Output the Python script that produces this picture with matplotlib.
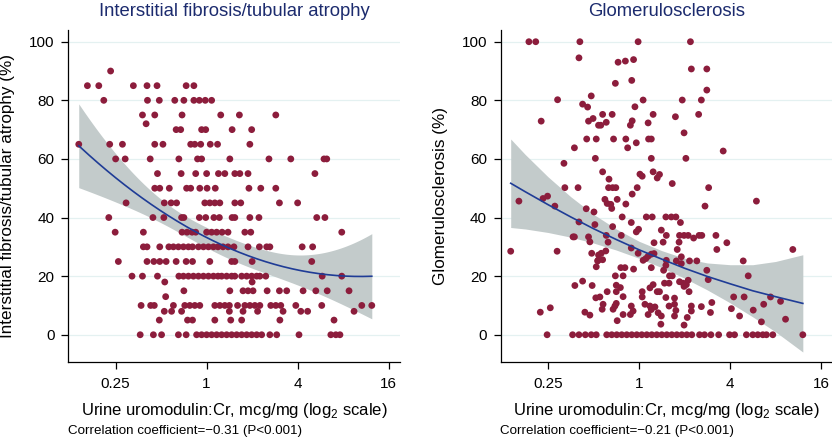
import numpy as np
import matplotlib
matplotlib.use("Agg")
import matplotlib.pyplot as plt
from matplotlib.ticker import FixedLocator, FuncFormatter

plt.rcParams['font.family'] = ['Liberation Sans', 'DejaVu Sans']
plt.rcParams['mathtext.fontset'] = 'custom'
plt.rcParams['mathtext.rm'] = 'Liberation Sans'

# ---------------- data (x = log2 of urine uromodulin:Cr, mcg/mg) ----------------
# Interstitial fibrosis / tubular atrophy (%), grouped by score level
ifta_levels = [90, 85, 80, 75, 72, 70, 65, 60, 55, 50, 45, 40, 35, 30, 25, 20, 18, 15, 13, 10, 8, 5, 0]
ifta_log2_by_level = [
    [-2.11],
    [-2.62, -2.37, -1.61, -1.31, -1.09, -0.45, -0.28],
    [-2.26, -1.30, -1.04, -0.70, -0.50, -0.28, -0.16, -0.03, 0.11],
    [-1.41, -1.14, -0.54, 0.31, 0.72, 1.52],
    [-1.33],
    [-0.67, -0.57, -0.11, -0.02, 0.56, 0.99],
    [-2.81, -2.13, -1.85, -1.14, -0.96, -0.35, -0.26, -0.13, 0.08, 0.24, 0.95],
    [-2.00, -1.79, -1.24, -0.61, -0.20, -0.11, 0.51, 1.37, 1.85, 2.58, 2.64],
    [-1.08, -0.56, -0.24, 0.00, 0.26, 0.40, 0.62, 0.73, 0.91, 2.38],
    [-1.14, -1.03, -0.82, -0.44, -0.35, -0.15, 0.01, 0.19, 0.93, 1.19, 1.52],
    [-1.77, -0.93, -0.78, -0.66, -0.04, 0.07, 0.18, 0.29, 0.62, 0.75, 1.60, 2.00],
    [-2.15, -1.18, -0.94, -0.55, -0.50, -0.16, -0.02, 0.16, 0.28, 0.56, 0.62, 0.95, 1.15, 2.42, 2.60],
    [-2.01, -1.39, -0.54, -0.43, -0.32, -0.24, 0.00, 0.11, 0.22, 0.34, 0.47, 0.84, 0.97, 2.97],
    [-1.39, -1.31, -1.03, -0.83, -0.73, -0.62, -0.51, -0.40, -0.31, -0.18, -0.07, 0.04, 0.15, 0.25,
     0.36, 0.47, 0.60, 0.91, 1.16, 1.32, 1.39, 2.10, 2.33],
    [-1.94, -1.31, -1.16, -1.03, -0.89, -0.67, -0.45, -0.31, 0.07, 0.55, 0.62, 1.00, 2.31],
    [-1.64, -1.41, -1.08, -0.61, -0.51, -0.40, -0.29, -0.18, -0.07, 0.04, 0.15, 0.25, 0.33, 0.44,
     0.55, 0.62, 0.77, 0.88, 0.99, 1.10, 1.17, 1.30, 2.54, 2.97],
    [-0.92, 1.00],
    [-0.50, 0.51, 0.80, 0.91, 1.02, 1.33, 1.60, 1.76, 2.12, 2.40, 2.65, 3.13],
    [-0.90],
    [-1.44, -1.23, -1.15, -0.73, -0.48, -0.37, -0.26, -0.15, 0.18, 0.29, 0.40, 0.50, 0.68, 0.84,
     0.95, 1.06, 1.17, 1.41, 1.52, 1.63, 1.96, 2.53, 3.41, 3.63],
    [-0.93, -0.77, -0.55, 0.50, 0.80, 1.12, 1.68, 2.07, 2.22, 3.24],
    [-1.04, -0.42, -0.31, 0.18, 0.53, 0.77, 1.61, 2.80],
    [-1.46, -1.17, -0.99, -0.62, -0.45, -0.22, -0.11, 0.00, 0.11, 0.22, 0.33, 0.44, 0.55, 0.66,
     0.77, 0.88, 0.99, 1.10, 1.21, 1.39, 1.54, 2.03, 2.73, 2.84, 2.93],
]

# Glomerulosclerosis (%)
gs_log2 = [
    -2.42, -2.27, -1.30, -0.02, 1.13, -1.32, -0.46, -0.30, -0.12, 1.15,
    1.49, -0.52, -0.16, 1.49, -1.05, -1.79, 0.09, 0.95, 1.37, -1.24,
    -1.13, -0.09, -0.80, -0.59, 0.31, 1.31, 0.80, -1.01, -1.11, -2.15,
    -0.15, -0.72, 0.20, -0.89, -0.84, -0.19, 0.99, -1.15, -0.94, -0.56,
    -0.29, 0.21, 0.27, -0.06, -1.42, -0.25, 1.85, -0.96, 0.27, 1.03,
    -1.65, -0.80, 0.31, 0.02, 0.45, 0.07, 0.40, -0.66, 0.73, -1.63,
    -1.34, -0.67, -0.58, -0.51, -0.04, 1.53, -0.15, -2.01, -2.11, -0.75,
    -0.48, -2.64, 2.58, -0.70, -0.29, -0.62, -1.85, 1.45, -0.60, -1.16,
    -0.99, -0.37, 0.16, 0.29, 0.59, 0.71, 0.81, -1.32, -0.17, 0.91,
    -0.97, -0.58, -0.01, 0.49, -0.06, -1.45, -1.42, -1.11, -0.72, -0.39,
    0.60, 0.89, 0.99, 1.08, 1.32, 1.38, 1.69, 1.20, -1.08, -0.68,
    0.53, 0.88, 0.33, 1.93, -0.17, 0.84, 1.71, 3.38, -2.82, -1.80,
    -0.73, -1.04, -0.83, -0.02, 0.33, 0.27, -0.89, 0.20, 0.93, 0.15,
    -0.80, -0.90, 0.09, 0.60, -0.91, 0.82, 1.11, 1.27, 2.29, 0.93,
    0.59, -0.94, -0.40, -0.31, 0.27, -0.12, 0.54, 1.49, -0.52, -0.35,
    0.67, 0.73, 2.40, 1.52, 1.08, -1.24, 0.89, 0.56, 0.66, 0.97,
    0.31, 1.04, -0.50, -1.41, -1.03, 0.99, -0.41, 0.24, -0.70, -0.50,
    0.07, 0.40, 0.45, 1.10, -0.35, -0.86, 0.07, 2.08, 2.31, 2.89,
    0.59, -0.95, 0.78, 3.11, 1.60, -0.50, -0.79, 0.13, 0.78, 2.74,
    -0.53, -0.17, 0.24, 0.66, 1.15, 1.37, 0.35, -1.95, 2.03, -0.81,
    -0.57, 0.27, 2.51, 0.81, -0.13, 1.15, -2.17, -1.19, 1.57, 0.42,
    -0.35, -0.19, 0.20, -1.08, 0.49, 0.78, 2.21, 1.06, 3.22, -0.48,
    2.69, 0.48, 0.99,
]
gs_pct = [
    100, 100, 100, 100, 100, 94.5, 93.0, 93.4, 93.9, 90.7,
    90.7, 85.8, 86.8, 83.5, 81.5, 80.2, 80.1, 80.1, 80.1, 78.7,
    77.7, 77.8, 75.2, 75.2, 75.2, 75.2, 74.4, 73.8, 72.9, 72.9,
    73.0, 72.5, 72.3, 71.5, 71.5, 71.5, 68.9, 66.8, 66.8, 66.8,
    66.8, 66.8, 66.8, 65.5, 63.8, 63.8, 62.7, 60.2, 60.2, 60.2,
    58.5, 55.6, 55.6, 54.8, 54.7, 54.1, 53.5, 53.1, 51.6, 50.2,
    50.2, 50.2, 50.2, 50.2, 50.2, 50.2, 48.0, 47.3, 46.5, 46.2,
    46.2, 45.6, 45.6, 44.8, 44.6, 44.5, 43.9, 43.9, 43.1, 43.0,
    41.9, 40.2, 40.2, 40.2, 40.2, 40.2, 40.2, 38.5, 38.3, 38.3,
    37.6, 36.9, 36.0, 35.7, 35.1, 33.4, 33.4, 33.4, 33.9, 33.9,
    33.9, 33.9, 33.9, 33.9, 33.9, 33.9, 33.9, 33.0, 31.7, 31.6,
    31.6, 31.6, 31.4, 31.4, 29.6, 29.1, 29.1, 29.1, 28.5, 28.5,
    28.6, 27.8, 27.8, 27.8, 27.7, 27.5, 27.2, 26.8, 26.6, 26.0,
    25.6, 25.4, 25.4, 25.4, 25.2, 25.2, 25.2, 25.2, 25.2, 24.3,
    23.7, 23.2, 22.9, 22.9, 22.9, 22.4, 22.0, 22.0, 20.1, 20.1,
    20.1, 20.1, 20.1, 18.8, 18.6, 18.3, 18.1, 17.6, 17.6, 17.6,
    17.1, 17.1, 16.9, 16.8, 16.8, 16.5, 16.1, 16.0, 14.7, 14.7,
    14.7, 14.7, 14.7, 14.7, 13.0, 12.9, 12.9, 12.9, 12.9, 12.9,
    12.7, 12.6, 12.5, 11.4, 11.0, 10.7, 10.4, 10.4, 10.4, 10.4,
    9.8, 9.8, 9.8, 9.8, 9.8, 9.6, 9.5, 9.2, 8.9, 8.7,
    8.7, 8.6, 8.4, 8.3, 8.1, 8.1, 7.7, 7.7, 7.6, 7.5,
    6.9, 6.9, 6.9, 6.7, 6.4, 6.4, 6.4, 5.9, 5.3, 4.8,
    4.4, 3.6, 3.3,
]
# patients with 0% glomerulosclerosis
gs_zero_log2 = [
    -2.02, -1.46, -1.32, -1.18, -1.05, -0.94, -0.71, -0.60, -0.49, -0.38, -0.27, -0.16, -0.05,
    0.06, 0.17, 0.28, 0.39, 0.50, 0.61, 0.72, 0.83, 0.94, 1.05, 1.16, 1.33, 1.44, 1.58, 1.75,
    1.99, 2.10, 2.36, 2.50, 2.61, 2.72, 2.80, 2.94, 3.60,
]

# quadratic fit with 95% CI for glomerulosclerosis
gs_fit_log2 = [-2.82, -2.5, -2.0, -1.5, -1.0, -0.5, 0.0, 0.5, 1.0, 1.5, 2.0, 2.5, 3.0, 3.6]
gs_fit_pct = [51.7, 48.8, 44.4, 40.2, 36.2, 32.5, 29.0, 25.8, 22.7, 19.9, 17.4, 15.0, 13.0, 10.7]
gs_fit_lo = [36.6, 36.1, 34.9, 33.3, 31.3, 28.9, 26.1, 22.9, 19.3, 15.3, 10.9, 6.1, 1.0, -5.9]
gs_fit_hi = [66.8, 61.5, 53.9, 47.1, 41.1, 36.1, 31.9, 28.7, 26.1, 24.5, 23.9, 23.9, 25.0, 27.3]

titles = ["Interstitial fibrosis/tubular atrophy", "Glomerulosclerosis"]
ylabels = ["Interstitial fibrosis/tubular atrophy (%)", "Glomerulosclerosis (%)"]
corr_text = ["Correlation coefficient=\u22120.31 (P<0.001)", "Correlation coefficient=\u22120.21 (P<0.001)"]
x_ticks = [-2, 0, 2, 4]
y_ticks = [0, 20, 40, 60, 80, 100]

# ---------------- assemble ----------------
ifta_x = np.concatenate([np.array(v, float) for v in ifta_log2_by_level])
ifta_y = np.concatenate([np.full(len(v), lev, float) for v, lev in zip(ifta_log2_by_level, ifta_levels)])
gs_x = np.concatenate([np.array(gs_log2, float), np.array(gs_zero_log2, float)])
gs_y = np.concatenate([np.array(gs_pct, float), np.zeros(len(gs_zero_log2))])


def qfitci(x, y, n=200, z=1.97):
    X = np.column_stack([np.ones_like(x), x, x ** 2])
    beta = np.linalg.lstsq(X, y, rcond=None)[0]
    resid = y - X @ beta
    s2 = resid @ resid / (len(y) - 3)
    cov = s2 * np.linalg.inv(X.T @ X)
    xg = np.linspace(x.min(), x.max(), n)
    Xg = np.column_stack([np.ones_like(xg), xg, xg ** 2])
    yg = Xg @ beta
    se = np.sqrt(np.einsum('ij,jk,ik->i', Xg, cov, Xg))
    return xg, yg, yg - z * se, yg + z * se


W, H = 832, 442
fig = plt.figure(figsize=(W / 100, H / 100), dpi=100)

MARKER = '#8c1d3c'
LINE = '#1f3c96'
BAND = '#c3cbcb'
GRID = '#e4f1f1'
NAVY = '#1c2b6e'

ax_left_px = [68.3, 500.7]
ax_w_px = 331.7
ax_bottom_px = 362.0
ax_top_px = 30.0

fits = [
    qfitci(ifta_x, ifta_y),
    (np.array(gs_fit_log2), np.array(gs_fit_pct), np.array(gs_fit_lo), np.array(gs_fit_hi)),
]
datasets = [(ifta_x, ifta_y), (gs_x, gs_y)]
for i, (xs, ys) in enumerate(datasets):
    l = ax_left_px[i]
    ax = fig.add_axes([l / W, 1 - ax_bottom_px / H, ax_w_px / W, (ax_bottom_px - ax_top_px) / H])
    ax.set_xlim(-3.04, 4.25)
    ax.set_ylim(-9.3, 104.0)
    for yt in y_ticks:
        ax.axhline(yt, color=GRID, lw=0.9, zorder=0)
    xg, yg, lo, hi = fits[i]
    ax.fill_between(xg, lo, hi, color=BAND, lw=0, zorder=1)
    ax.scatter(xs, ys, s=24, color=MARKER, edgecolors='none', zorder=2, clip_on=False)
    ax.plot(xg, yg, color=LINE, lw=1.2, zorder=3)

    ax.xaxis.set_major_locator(FixedLocator(x_ticks))
    ax.xaxis.set_major_formatter(FuncFormatter(lambda v, p: '%g' % (2.0 ** v)))
    ax.set_yticks(y_ticks)
    for s in ['top', 'right']:
        ax.spines[s].set_visible(False)
    for s in ['left', 'bottom']:
        ax.spines[s].set_linewidth(0.9)
    ax.tick_params(axis='both', direction='out', length=4.8, width=0.9, labelsize=11, pad=5)
    ax.tick_params(axis='x', pad=6)

    cx = (l + ax_w_px / 2) / W
    fig.text(cx, 1 - 12 / H, titles[i], ha='center', va='center', fontsize=13.3, color=NAVY)
    fig.text(cx, 1 - 410 / H, r'Urine uromodulin:Cr, mcg/mg (log$_\mathregular{2}$ scale)',
             ha='center', va='center', fontsize=12)
    fig.text((l - 0.5) / W, 1 - 431 / H, corr_text[i], ha='left', va='center', fontsize=9.6)
    ylx = [8, 441][i]
    fig.text(ylx / W, 1 - 196 / H, ylabels[i], rotation=90, ha='center', va='center', fontsize=12.3)

fig.savefig('out.png', dpi=100)
